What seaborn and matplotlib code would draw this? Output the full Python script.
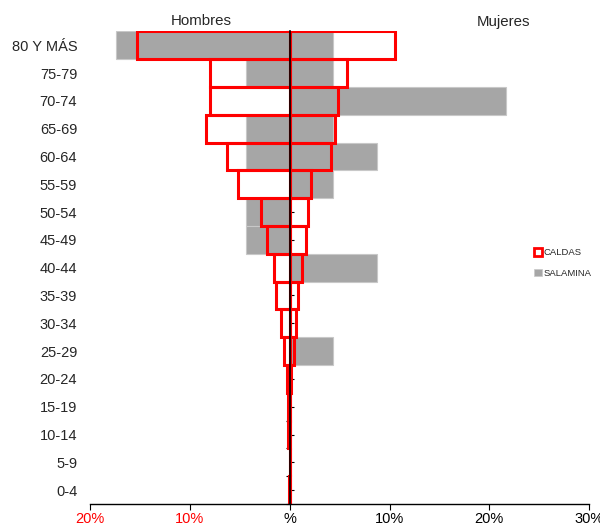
import numpy as np
import pandas as pd
import matplotlib
matplotlib.use("Agg")
import matplotlib.pyplot as plt
from matplotlib.patches import Patch
import seaborn as sns

# ---- data ----
age_groups = ["80 Y MÁS", "75-79", "70-74", "65-69", "60-64", "55-59", "50-54",
              "45-49", "40-44", "35-39", "30-34", "25-29", "20-24", "15-19",
              "10-14", "5-9", "0-4"]
caldas_hombres = [15.3, 8.0, 8.0, 8.4, 6.3, 5.2, 2.9, 2.3, 1.6, 1.35, 0.85, 0.55,
                  0.3, 0.15, 0.15, 0.0, 0.1]
caldas_mujeres = [10.5, 5.7, 4.8, 4.5, 4.1, 2.1, 1.8, 1.6, 1.2, 0.8, 0.6, 0.4,
                  0.1, 0.05, 0.05, 0.0, 0.05]
salamina_hombres = [17.4, 4.35, 0.0, 4.35, 4.35, 0.0, 4.35, 4.35, 0.0, 0.0, 0.0,
                    0.0, 0.0, 0.0, 0.0, 0.0, 0.0]
salamina_mujeres = [4.35, 4.35, 21.7, 4.35, 8.7, 4.35, 0.0, 0.0, 8.7, 0.0, 0.0,
                    4.35, 0.0, 0.0, 0.0, 0.0, 0.0]
x_ticks = [-20, -10, 0, 10, 20, 30]
x_tick_labels = ["20%", "10%", "%", "10%", "20%", "30%"]

df = pd.DataFrame({
    "edad": age_groups,
    "cal_h": -np.array(caldas_hombres),
    "cal_m": np.array(caldas_mujeres),
    "sal_h": -np.array(salamina_hombres),
    "sal_m": np.array(salamina_mujeres),
})

sns.set_style("white")
plt.rcParams["font.family"] = ["Liberation Sans", "DejaVu Sans"]

fig = plt.figure(figsize=(6.0, 5.27), dpi=100)
ax = fig.add_axes([0.15, 0.0436, 0.832, 0.897])

gray = "#A6A6A6"
for col in ["sal_h", "sal_m"]:
    sns.barplot(data=df, y="edad", x=col, order=age_groups, orient="h",
                color=gray, width=1.0, edgecolor="#C8C8C8", linewidth=0.8,
                saturation=1, ax=ax, errorbar=None)
for col in ["cal_h", "cal_m"]:
    sns.barplot(data=df, y="edad", x=col, order=age_groups, orient="h",
                fill=False, width=1.0, edgecolor="#FF0000", linewidth=2.2,
                ax=ax, errorbar=None)
# make the red bars truly hollow
for cont in ax.containers[2:]:
    for p in cont.patches:
        p.set_facecolor("none")
        p.set_edgecolor("#FF0000")
        p.set_linewidth(2.2)

ax.set_xlim(-20, 30)
ax.set_ylim(len(age_groups) - 0.5, -0.5)
ax.set_xlabel("")
ax.set_ylabel("")

# spines
for s in ["top", "right"]:
    ax.spines[s].set_visible(False)
ax.spines["bottom"].set_color("black")
ax.spines["bottom"].set_linewidth(1.0)
ax.spines["left"].set_position(("data", 0))
ax.spines["left"].set_color("black")
ax.spines["left"].set_linewidth(1.2)
ax.spines["left"].set_zorder(5)

ax.set_xticks(x_ticks)
ax.set_xticklabels(x_tick_labels, fontsize=10.5)
for lbl, t in zip(ax.get_xticklabels(), x_ticks):
    lbl.set_color("#FF0000" if t < 0 else "black")
ax.tick_params(axis="x", direction="out", length=4, width=0.8, color="black",
               bottom=True, pad=2)

ax.set_yticks(range(len(age_groups)))
ax.set_yticklabels(age_groups, fontsize=10.5)
ax.set_yticks(np.arange(len(age_groups) + 1) - 0.5, minor=True)
ax.tick_params(axis="y", which="major", direction="in", length=3, width=0.8,
               color="black", left=True, pad=153)
ax.tick_params(axis="y", which="minor", direction="out", length=3, width=0.8,
               color="black", left=True)

fig.text(201 / 600, 1 - 21 / 527, "Hombres", ha="center", va="center", fontsize=10.8)
fig.text(504 / 600, 1 - 22 / 527, "Mujeres", ha="center", va="center", fontsize=10.8)

handles = [Patch(facecolor="white", edgecolor="#FF0000", linewidth=2.0, label="CALDAS"),
           Patch(facecolor=gray, edgecolor="#C8C8C8", linewidth=0.5, label="SALAMINA")]
fig.legend(handles=handles, loc="center left", bbox_to_anchor=(534 / 600, 1 - 263 / 527),
           frameon=False, fontsize=6.8, handlelength=0.85, handleheight=0.85,
           handletextpad=0.2, labelspacing=1.2, borderaxespad=0, borderpad=0)

fig.savefig("out.png", dpi=100)
